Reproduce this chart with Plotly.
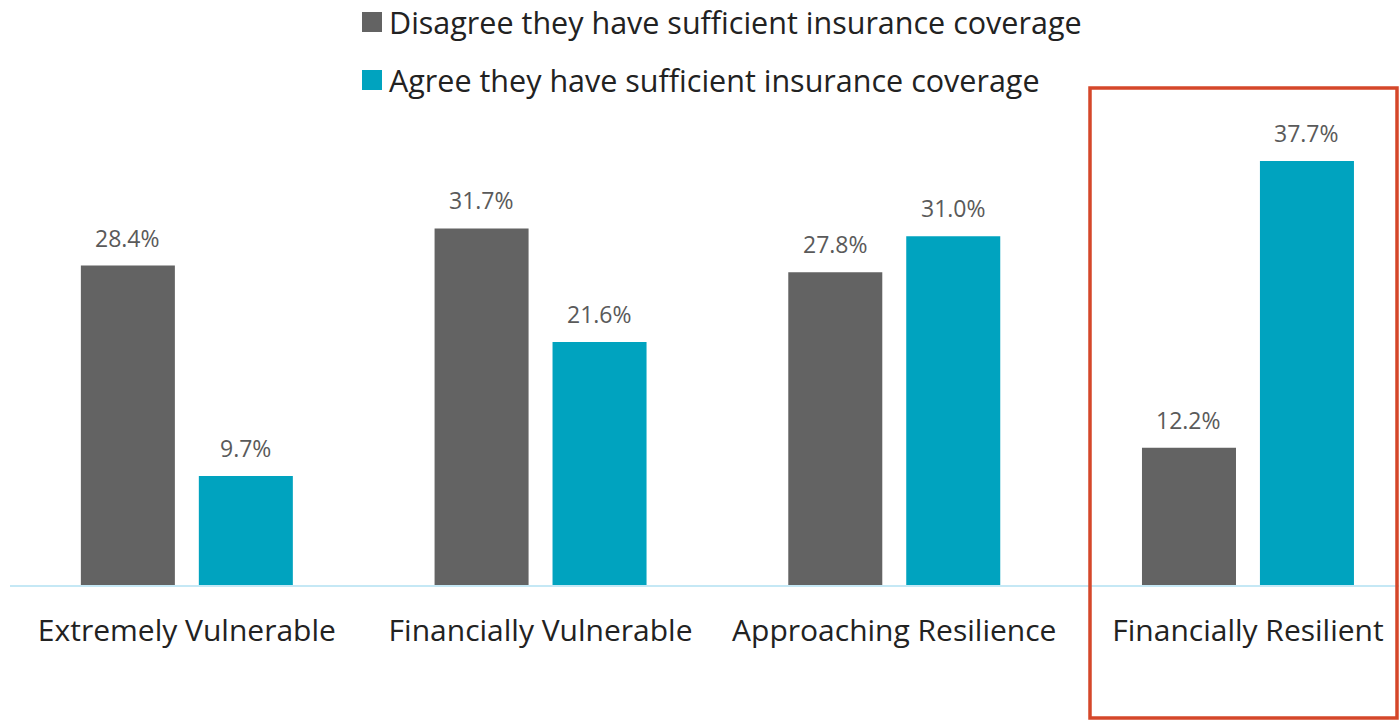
import plotly.graph_objects as go

# Resilience segments and the share in each who agree / disagree about coverage
categories = ["Extremely Vulnerable", "Financially Vulnerable",
              "Approaching Resilience", "Financially Resilient"]
disagree = [28.4, 31.7, 27.8, 12.2]
agree = [9.7, 21.6, 31.0, 37.7]
series_names = ["Disagree they have sufficient insurance coverage",
                "Agree they have sufficient insurance coverage"]

GRAY = "#636363"
TEAL = "#00a3bf"
FONT = "'Open Sans', Lato, sans-serif"

W, H = 1399, 721
ML, MR, MT, MB = 10, 0, 100, 136
plot_w = W - ML - MR
plot_h = H - MT - MB
BAR_OFFSET = 59  # half the spacing between paired bars, in px


def px_x(p):
    return (p - ML) / plot_w


def px_y(p):
    return (H - MB - p) / plot_h


fig = go.Figure()
for name, vals, col, sign in [(series_names[0], disagree, GRAY, -1),
                              (series_names[1], agree, TEAL, 1)]:
    fig.add_trace(go.Bar(
        x=categories, y=vals, name=name, marker_color=col, marker_line_width=0,
        showlegend=False,
    ))
    # value labels above each bar
    for cat, v in zip(categories, vals):
        fig.add_annotation(x=cat, y=v, xref="x", yref="y", text=f"{v:.1f}%",
                           showarrow=False, xanchor="center", yanchor="bottom",
                           xshift=sign * BAR_OFFSET, yshift=10,
                           font=dict(family=FONT, size=23, color="#5a5a5a"))

# Highlight box around the resilient segment
fig.add_shape(type="rect", xref="paper", yref="paper",
              x0=px_x(1090), x1=px_x(1397), y0=px_y(718), y1=px_y(88),
              line=dict(color="#d5472a", width=3.5), fillcolor="rgba(0,0,0,0)")

# Legend drawn as swatches with labels
for i, (name, col) in enumerate(zip(series_names, [GRAY, TEAL])):
    cy = 22 + i * 58
    fig.add_shape(type="rect", xref="paper", yref="paper",
                  x0=px_x(362), x1=px_x(382), y0=px_y(cy + 10), y1=px_y(cy - 10),
                  line=dict(width=0), fillcolor=col)
    fig.add_annotation(xref="paper", yref="paper", x=px_x(387), y=px_y(cy),
                       xanchor="left", yanchor="middle", showarrow=False, text=name,
                       font=dict(family=FONT, size=30.5, color="#222222"))

fig.update_layout(
    width=W, height=H,
    margin=dict(l=ML, r=MR, t=MT, b=MB),
    paper_bgcolor="white", plot_bgcolor="white",
    barmode="group", bargap=0.333, bargroupgap=0.203,
    font=dict(family=FONT, color="#222222"),
    xaxis=dict(range=[-0.5, 3.427], showgrid=False, showline=True,
               linecolor="#c5e8f5", linewidth=2, ticks="",
               tickfont=dict(family=FONT, size=30, color="#222222"),
               ticklabelstandoff=18),
    yaxis=dict(range=[0, plot_h / 11.25], visible=False, showgrid=False),
)

fig.write_html("out.html")
